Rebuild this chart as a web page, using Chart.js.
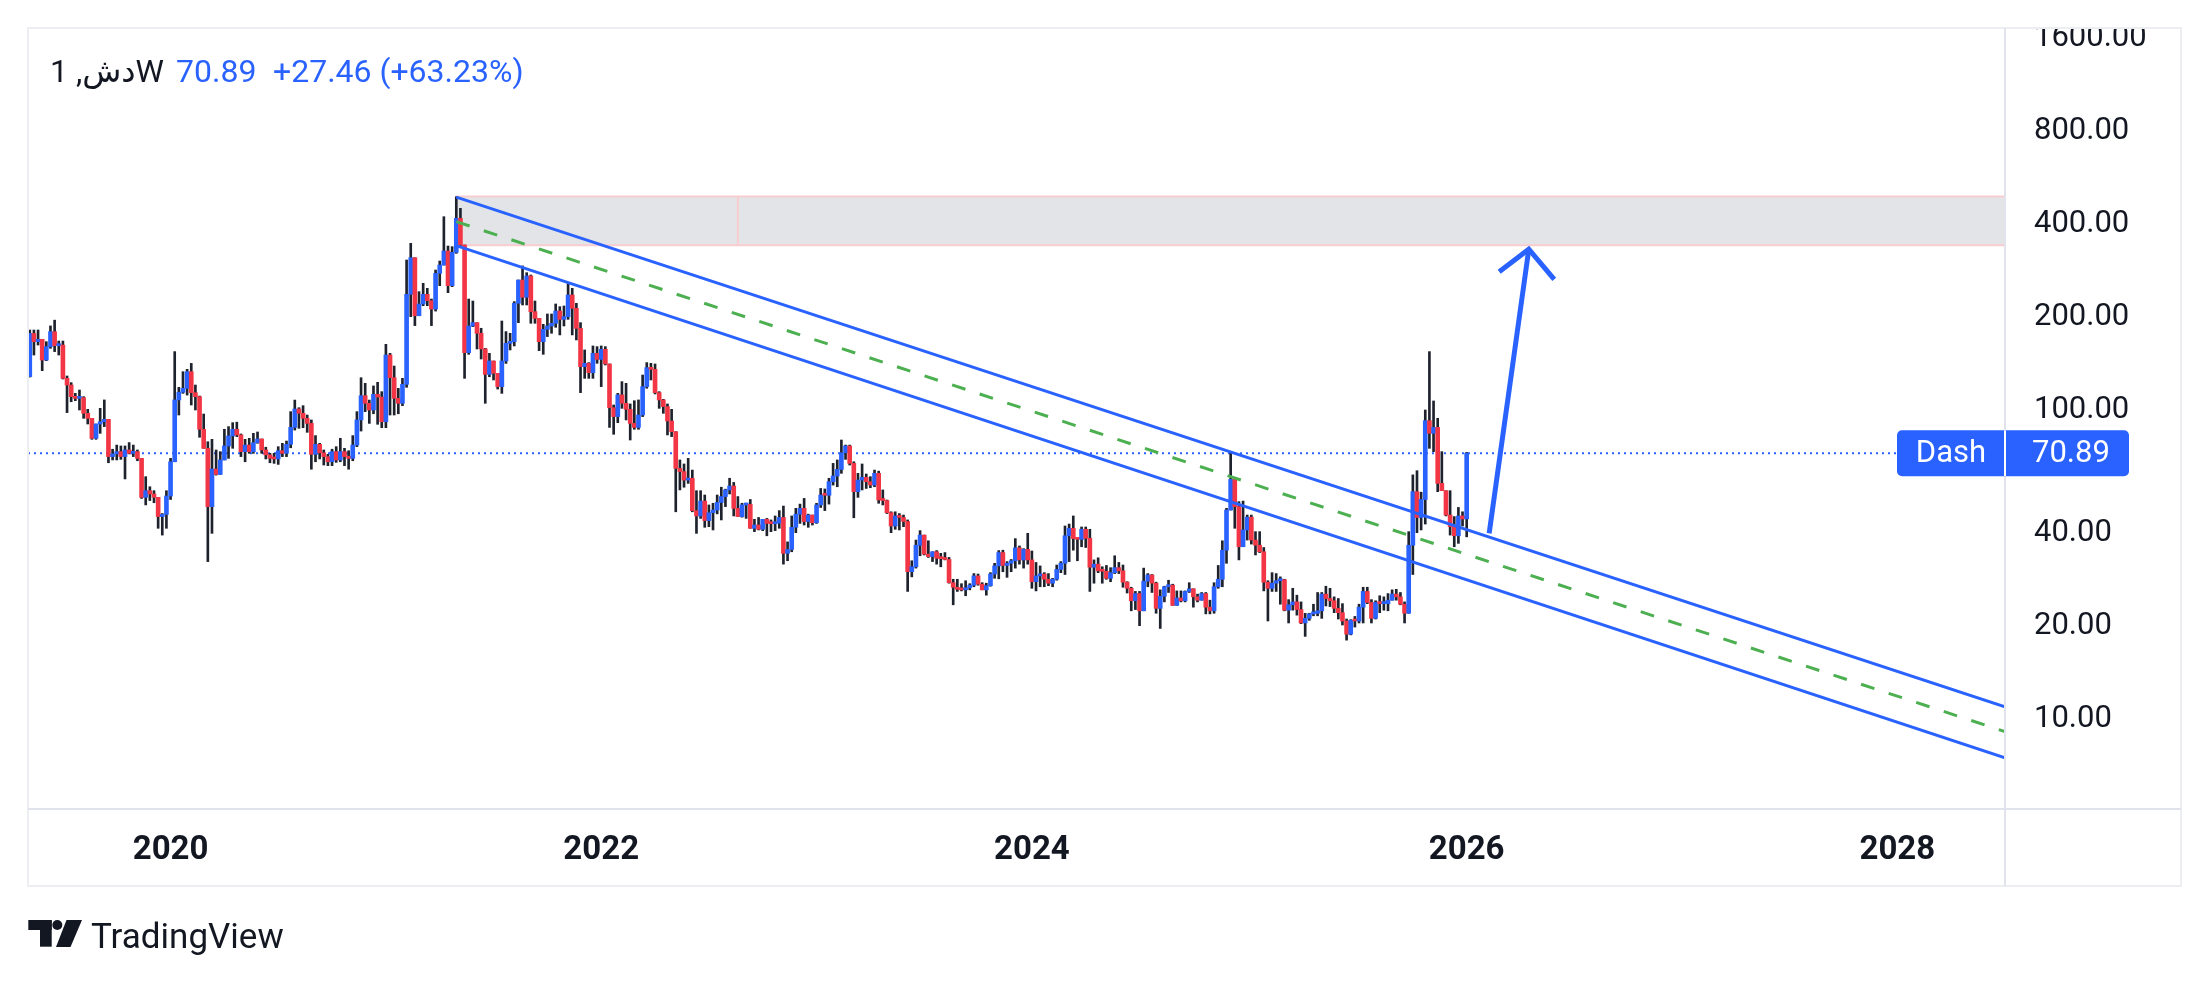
<!DOCTYPE html>
<html>
<head>
<meta charset="utf-8">
<title>Dash 1W</title>
<script src="https://cdn.jsdelivr.net/npm/chart.js@4.4.1/dist/chart.umd.min.js"></script>
<style>
  html, body { margin: 0; padding: 0; background: #ffffff; }
  #wrap { width: 2209px; height: 982px; position: relative; }
</style>
</head>
<body>
<div id="wrap"><canvas id="chart"></canvas></div>
<script>
// weekly candles, first bar is the week of 2019-05-13
const firstWeek = '2019-05-13';
const firstOpen = 125.4;

const closes = [
  173, 162.7, 165.6, 141.9, 156.8, 175.3, 157.9, 158.7, 123.8, 117.8,
  108, 106.7, 107.2, 95.4, 91.9, 79.2, 88.1, 89.6, 91.2, 69.1,
  70.5, 71.7, 69.1, 72.6, 70.8, 71.7, 68.2, 51, 53.6, 52.3,
  51, 44.2, 44.9, 51.5, 66.5, 105.4, 111.6, 114.9, 130.1, 111.3,
  108, 84.7, 73.5, 47.6, 63, 60.5, 67.4, 74.8, 80.6, 84.7,
  81.2, 71.7, 75.3, 71.7, 76.7, 78.8, 72.6, 70, 68.2, 67.9,
  72.2, 70.8, 75.7, 85.9, 98.5, 95.4, 91.9, 88.5, 70.3, 75.7,
  71.1, 69.1, 66.5, 71.7, 67.4, 71.7, 69.1, 68.2, 75.3, 90.8,
  108.8, 102.8, 97.8, 109.9, 107.7, 89.6, 147.3, 124.4, 106.7, 102.8,
  118.4, 231.5, 304.2, 197.4, 215.4, 231.5, 220.8, 207.5, 270.7, 288,
  319.8, 247, 316.6, 407.8, 334.4, 149.9, 182.9, 187.5, 173.2, 154.1,
  127.5, 140.9, 128.5, 116.4, 140.9, 160.7, 162.7, 216.6, 257.6, 226.5,
  265.5, 203.5, 193.6, 162.7, 178.4, 182.9, 186.6, 204.5, 192.2, 196,
  230.4, 208.6, 179.7, 135.1, 138.5, 129.1, 149.2, 142.6, 153.7, 137.8,
  99.5, 93.1, 109.4, 102.8, 98.3, 88.5, 85.9, 94.2, 116.4, 134.1,
  132.4, 111.3, 105.4, 100.3, 90.1, 83.2, 63.3, 61.8, 58, 58.8,
  46.2, 44.4, 49.6, 42.9, 45.5, 46.4, 49.1, 51.3, 53.9, 55.5,
  47, 44.2, 48.2, 48.4, 40.5, 41.5, 40.2, 43.3, 42, 41.9,
  42.1, 43.9, 33.6, 34.6, 40.8, 45, 47, 42.6, 44.7, 42.2,
  48.2, 51.9, 51.8, 57.3, 59.8, 62.8, 71.1, 74.8, 65.7, 53.2,
  58, 59.2, 57.3, 55.9, 61, 50, 49.8, 45.5, 41.2, 44.4,
  43.9, 42.6, 29.3, 30.4, 35.7, 38.5, 33.4, 32.8, 34, 32.4,
  32.3, 32.1, 27, 26.1, 25.7, 25.6, 26, 26.5, 28.4, 26.7,
  25.6, 26.4, 28.8, 30.6, 33.8, 30.7, 31.2, 31.8, 35, 32,
  34.6, 32, 27.2, 28.4, 28.8, 27.7, 26.9, 27.7, 29.8, 31.2,
  38.3, 40.5, 37.5, 37.3, 40.2, 37.6, 30.3, 31, 29.5, 29.4,
  27.9, 29.1, 30.2, 29.5, 27.1, 25.9, 23.6, 24.9, 21.9, 27.3,
  28.6, 26.9, 22.3, 24.4, 26.2, 26.5, 22.8, 24.1, 23.6, 25.3,
  25.8, 24.3, 23.7, 24.9, 22.5, 21.9, 26.2, 27.7, 34.4, 46.4,
  58.3, 47.6, 35.3, 40, 44, 37.1, 35.7, 34, 27.1, 25.9,
  26.9, 27.4, 27.6, 22, 22.9, 23.4, 22.1, 20, 20.7, 21.4,
  21.5, 21.9, 24.8, 24, 23.6, 22.3, 21.6, 20.3, 18.4, 20.4,
  20.3, 22.5, 25.3, 23.3, 20.7, 23.3, 23.1, 23.1, 23.7, 24.8,
  24.3, 23, 21.5, 35.7, 53.2, 43.9, 50.2, 90.3, 82.2, 85.9,
  56.6, 53.6, 44.7, 41, 38.3, 44.4, 43.43, 70.89
];

const highs = [
  177.5, 177.5, 177.5, 165.6, 162.7, 183, 191, 163.5, 163.5, 126,
  119.9, 110.7, 113.5, 108, 98.3, 91.9, 88.1, 99, 105.4, 91.2,
  73, 75.3, 74.8, 74.8, 76.7, 75.3, 72.6, 68.2, 59.5, 55.2,
  53.6, 51, 45.2, 53.6, 68.2, 151.1, 115.8, 130.1, 132.4, 138.4,
  117.8, 108.5, 94.9, 77.2, 78.6, 72.6, 71.7, 84.7, 86.4, 89,
  89.3, 81.8, 78.6, 79.2, 82.2, 83, 78.8, 74.1, 70.8, 70.8,
  74.4, 76.3, 77.6, 96.6, 105.3, 99.5, 101, 94.2, 90.8, 80.8,
  76.3, 72.6, 70.3, 73, 74.4, 79.2, 73.5, 72.2, 80.8, 96.6,
  124.4, 119.3, 105.3, 117, 120.2, 112.1, 159.5, 149.2, 135.7, 114.9,
  123.8, 299, 338.6, 304.2, 236.2, 251.3, 242.1, 223.6, 277.5, 296.8,
  413, 331.9, 330.3, 479, 439.5, 334.4, 223.6, 220.3, 187.5, 179.8,
  154.8, 149.2, 140.9, 128.5, 189.8, 175.4, 173.2, 219.3, 257.6, 286.1,
  272.1, 267.4, 220.3, 193.6, 185.2, 200, 200, 215.5, 211.2, 212.3,
  251.3, 242.2, 216.6, 187.5, 153, 139.2, 157.6, 156.8, 157.6, 156.8,
  137.8, 101.5, 110.7, 120.8, 119.3, 102.3, 104.8, 105.4, 126.9, 139.2,
  138.5, 137.8, 112.1, 105.9, 102.3, 98.3, 83.2, 67.4, 65.4, 68.2,
  62.5, 53.6, 53.6, 51.9, 48.2, 48.8, 51.9, 55, 54.2, 58.8,
  57, 51.3, 48.8, 48.8, 50.2, 43.3, 43.9, 43.3, 43.6, 43.1,
  44.4, 46.2, 47.8, 36.6, 44.4, 47, 48.5, 50.6, 45, 44.7,
  48.8, 54.5, 54.3, 58.8, 65.7, 67.4, 78.2, 75.3, 75.3, 66.5,
  61, 65.4, 60.7, 59.5, 62.5, 62, 53.9, 50, 45.8, 45.8,
  45.2, 44.7, 43.1, 31.8, 37.1, 39.8, 38.5, 36.9, 34, 34.3,
  33.6, 33.8, 32.6, 27.7, 27.7, 26.8, 27.4, 26.8, 28.9, 28.8,
  27, 26.9, 29.1, 31.2, 34.3, 34.4, 31.6, 32.1, 37.5, 35.5,
  34.8, 39, 34.2, 31.4, 30.6, 29.1, 28.9, 27.9, 30.8, 31.6,
  41.2, 41.8, 44.4, 37.7, 40.9, 40.9, 40.2, 32, 32.5, 30.4,
  30.7, 30.2, 33, 31.4, 30.8, 27.2, 26.1, 25.3, 25.3, 30.1,
  28.9, 28.7, 27.1, 25.6, 26.3, 27.5, 26.7, 25.4, 25.4, 25.4,
  27, 25.8, 24.8, 25.1, 25.1, 23.7, 27, 30.7, 36.9, 47,
  71.7, 58.5, 49.4, 49.6, 44.7, 44.7, 39.5, 39.5, 35.1, 27.4,
  29.1, 28.9, 28.2, 27.7, 23.8, 25.9, 24.6, 23.4, 21.5, 21.5,
  23, 25.1, 25.1, 26.3, 25.9, 24.3, 24, 23.1, 20.6, 20.5,
  21, 23, 26.1, 26.1, 23.8, 23.6, 24.5, 24.3, 24.9, 25.6,
  25.7, 25.1, 23.4, 39.5, 60.3, 62.2, 53, 97.8, 151.1, 104.6,
  91.9, 71.7, 53.6, 53.6, 44.2, 47.3, 45.8, 71.3
];

const lows = [
  125, 147.3, 158.7, 131.1, 141.2, 154.9, 151.1, 147.3, 123.2, 95.9,
  104, 104.8, 97.8, 91.9, 88.1, 78.6, 78.6, 82.2, 86.4, 66,
  67.4, 67.4, 67.7, 58.5, 70.5, 69.1, 67, 50.6, 48.2, 49.8,
  49, 40.5, 38.5, 40.5, 50.2, 66.5, 94.2, 110.7, 109.3, 101.5,
  97.8, 79.8, 73.5, 31.6, 39, 60.2, 60.5, 67.4, 68.2, 73.5,
  80.2, 69.1, 66.5, 70.8, 70.8, 76.3, 70.8, 67.9, 66, 65.7,
  65.2, 69.1, 69.1, 73.8, 84.2, 85.3, 85.7, 82.8, 62.9, 66.5,
  67.9, 64.9, 64.6, 64.6, 66.2, 66.5, 64.6, 62.9, 67, 74.4,
  83.6, 96.6, 88.5, 95.1, 87.9, 85.7, 85.7, 94.2, 94.2, 95.1,
  101, 115.8, 196, 183.4, 197.4, 212.8, 212.8, 183.4, 204.4, 247,
  288, 234.4, 245.2, 314.2, 330.3, 123.8, 148.1, 182, 154.1, 143,
  102.8, 125.3, 122.3, 114.3, 110.7, 138.4, 153, 157.6, 187.5, 213.9,
  213.9, 186.6, 186.6, 152.2, 148.1, 169, 173.2, 181.1, 171.1, 182.9,
  192.2, 171.1, 164.8, 111.3, 123.8, 123.8, 123.8, 138.5, 116.4, 136.8,
  85.9, 81.6, 89, 99, 90.8, 78.2, 84.7, 84.7, 93.1, 115,
  122.3, 110.2, 99, 95.4, 81.2, 80.2, 45.8, 53.9, 55, 56.6,
  45.8, 39, 43.6, 40.8, 41, 40, 45.1, 43.1, 47.6, 52.3,
  44.4, 44.2, 44, 43.6, 40.5, 39.5, 40, 39.8, 38.3, 39.5,
  39.8, 40.5, 31, 31.8, 34, 39.2, 42, 41.5, 40.8, 41.5,
  42, 47.3, 46.2, 48.5, 55.9, 55.2, 61, 67.7, 64.9, 43.8,
  51, 53.9, 54.5, 54.8, 55.2, 48.8, 48.2, 45.2, 39.2, 40.2,
  40, 41, 25.3, 28.2, 30.1, 33, 33.2, 32.6, 31.6, 31,
  30.4, 32, 26.9, 22.9, 25.3, 25.4, 24.5, 25.6, 26.2, 26.5,
  25.6, 24.6, 26.3, 27.9, 27.8, 29.3, 28.1, 29.3, 30.1, 31,
  30.1, 31, 25.9, 25.4, 26.2, 26.2, 26.4, 26.2, 27.5, 29.1,
  28.7, 31.6, 34.4, 31.8, 35.3, 35.1, 25.3, 26.9, 29.1, 26.9,
  27.7, 27.2, 28.9, 28.9, 26.1, 25, 21.9, 22.1, 19.6, 21.9,
  26.2, 25.1, 21.5, 19.2, 23.4, 25.1, 22.8, 22.8, 23.4, 23.4,
  25.1, 22.5, 23.4, 23.7, 21.4, 21.4, 21.5, 25.9, 26.2, 31.2,
  46.4, 40.5, 32, 35.3, 37.1, 36, 33.2, 33.8, 25.4, 20.3,
  25.3, 25.3, 23, 21.9, 20, 22, 21.2, 19.9, 18.1, 20.4,
  21.1, 21.1, 20.7, 22.7, 22.6, 21.6, 20.6, 19.7, 17.6, 18.3,
  19.4, 20, 20, 23.1, 20, 20.6, 21.6, 22, 21.9, 23.7,
  23.7, 22.9, 20, 21.5, 28.7, 39.2, 40, 41.8, 73.5, 71.7,
  53.2, 53.6, 44.4, 38.5, 35.3, 36.2, 41.2, 38
];

// axes
const xFrom = '2019-05-10';
const xTo = '2028-07-03';
const yearTicks = ['2020-01-06', '2022-01-03', '2024-01-01', '2026-01-05', '2028-01-03'];
const yearLabels = ['2020', '2022', '2024', '2026', '2028'];
const priceTicks = [10, 20, 40, 100, 200, 400, 800, 1600];
const priceMin = 5;
const priceMax = 1685;

// drawings
const upperLine = [['2021-05-03', 478], ['2028-07-03', 10.7]];
const lowerLine = [['2021-05-03', 333], ['2028-07-03', 7.32]];
const midLine = [['2021-05-03', 398], ['2028-07-03', 8.9]];
const arrowShaft = [['2026-02-12', 39], ['2026-04-20', 324]];
const arrowHead = [['2026-03-01', 274], ['2026-04-20', 324], ['2026-06-02', 259]];
const zoneFrom = '2021-05-03';
const zoneMark = '2022-08-22';
const zoneLow = 334;
const zoneHigh = 480;

const symbolTitle = 'دش, 1W';
const lastChange = '+27.46 (+63.23%)';

const BLUE = '#2962ff';
const RED = '#f23645';
const WICK = '#1e222d';
const TEXT = '#131722';
const FONT = 'Roboto, "Noto Sans", "DejaVu Sans", sans-serif';

const DAY = 86400000;
function dayOf(d) {
  return (Date.parse(d) - Date.parse(firstWeek)) / DAY;
}
function toPts(arr) {
  return arr.map(p => ({ x: dayOf(p[0]), y: p[1] }));
}

// weekly crypto bars open at the previous close
const opens = closes.map((c, i) => i === 0 ? firstOpen : closes[i - 1]);
const wickData = closes.map((c, i) => ({
  x: i * 7,
  y: [Math.min(lows[i], opens[i], c), Math.max(highs[i], opens[i], c)]
}));
const bodyData = closes.map((c, i) => ({ x: i * 7, y: [opens[i], c] }));
const bodyColors = closes.map((c, i) => c >= opens[i] ? BLUE : RED);
const lastClose = closes[closes.length - 1];
const xMin = dayOf(xFrom);
const xMax = dayOf(xTo);

const overlay = {
  id: 'overlay',
  beforeDatasetsDraw(chart) {
    const { ctx, chartArea: a, scales: { x, y } } = chart;
    ctx.save();
    ctx.beginPath();
    ctx.rect(a.left, a.top, a.right - a.left, a.bottom - a.top);
    ctx.clip();
    const x0 = x.getPixelForValue(dayOf(zoneFrom));
    const x1 = a.right;
    const xm = x.getPixelForValue(dayOf(zoneMark));
    const yt = y.getPixelForValue(zoneHigh);
    const yb = y.getPixelForValue(zoneLow);
    ctx.fillStyle = '#e3e4e8';
    ctx.fillRect(x0, yt, x1 - x0, yb - yt);
    ctx.strokeStyle = '#f9cdd0';
    ctx.lineWidth = 2;
    ctx.beginPath();
    ctx.moveTo(x1, yt);
    ctx.lineTo(x0, yt);
    ctx.lineTo(x0, yb);
    ctx.lineTo(x1, yb);
    ctx.moveTo(xm, yt);
    ctx.lineTo(xm, yb);
    ctx.stroke();
    ctx.restore();
  },
  afterDraw(chart) {
    const { ctx, scales: { y } } = chart;
    ctx.save();
    // the top price label is cut by the frame
    ctx.fillStyle = '#ffffff';
    ctx.fillRect(2006, 0, 203, 27);

    ctx.lineWidth = 2;
    ctx.strokeStyle = '#eceef2';
    ctx.strokeRect(28, 28, 2153, 858);
    ctx.strokeStyle = '#e0e3eb';
    ctx.beginPath();
    ctx.moveTo(2005, 28); ctx.lineTo(2005, 886);
    ctx.moveTo(28, 809); ctx.lineTo(2181, 809);
    ctx.stroke();

    // last price tag
    const py = y.getPixelForValue(lastClose);
    ctx.fillStyle = BLUE;
    ctx.beginPath();
    ctx.roundRect(1897, py - 23, 232, 46, 5);
    ctx.fill();
    ctx.strokeStyle = '#ffffff';
    ctx.beginPath();
    ctx.moveTo(2005, py - 23); ctx.lineTo(2005, py + 23);
    ctx.stroke();
    ctx.fillStyle = '#ffffff';
    ctx.font = '31px ' + FONT;
    ctx.textBaseline = 'middle';
    ctx.textAlign = 'center';
    ctx.fillText('Dash', 1951, py + 1);
    ctx.textAlign = 'left';
    ctx.fillText(lastClose.toFixed(2), 2032, py + 1);

    // header
    ctx.font = '32px ' + FONT;
    ctx.direction = 'ltr';
    ctx.fillStyle = TEXT;
    ctx.fillText(symbolTitle, 50, 74);
    ctx.fillStyle = BLUE;
    ctx.fillText(lastClose.toFixed(2), 176, 74);
    ctx.fillText(lastChange, 273, 74);

    // TradingView mark
    ctx.fillStyle = TEXT;
    ctx.fillRect(28.3, 920, 23.4, 10);
    ctx.fillRect(40, 920, 11.7, 26.7);
    ctx.beginPath();
    ctx.arc(57.3, 925, 5, 0, Math.PI * 2);
    ctx.fill();
    ctx.beginPath();
    ctx.moveTo(66.5, 920); ctx.lineTo(82, 920); ctx.lineTo(70.5, 947); ctx.lineTo(56, 947);
    ctx.closePath();
    ctx.fill();
    ctx.font = '35px ' + FONT;
    ctx.textBaseline = 'alphabetic';
    ctx.fillText('TradingView', 91, 947.5);
    ctx.restore();
  }
};

new Chart(document.getElementById('chart'), {
  type: 'bar',
  data: {
    datasets: [
      { type: 'line', data: toPts(arrowShaft), borderColor: BLUE, borderWidth: 5, pointRadius: 0, borderCapStyle: 'butt', order: 0 },
      { type: 'line', data: toPts(arrowHead), borderColor: BLUE, borderWidth: 5, pointRadius: 0, borderJoinStyle: 'miter', order: 0 },
      { type: 'line', data: toPts(upperLine), borderColor: BLUE, borderWidth: 3, pointRadius: 0, order: 1 },
      { type: 'line', data: toPts(lowerLine), borderColor: BLUE, borderWidth: 3, pointRadius: 0, order: 1 },
      { type: 'line', data: toPts(midLine), borderColor: '#4caf50', borderWidth: 3, borderDash: [14, 15], pointRadius: 0, order: 1 },
      { data: bodyData, backgroundColor: bodyColors, barThickness: 4, minBarLength: 2, grouped: false, order: 2 },
      { data: wickData, backgroundColor: WICK, barThickness: 2, grouped: false, order: 3 },
      { type: 'line', data: [{ x: xMin, y: lastClose }, { x: xMax, y: lastClose }], borderColor: BLUE, borderWidth: 2, borderDash: [2, 4], pointRadius: 0, order: 4 }
    ]
  },
  options: {
    responsive: true,
    maintainAspectRatio: false,
    animation: false,
    devicePixelRatio: 1,
    layout: { padding: { left: 28, top: 28, right: 28, bottom: 96 } },
    plugins: { legend: { display: false }, tooltip: { enabled: false } },
    scales: {
      x: {
        type: 'linear',
        min: xMin,
        max: xMax,
        offset: false,
        grid: { display: false, drawTicks: false, offset: false },
        border: { display: false },
        afterBuildTicks: s => { s.ticks = yearTicks.map(d => ({ value: dayOf(d) })); },
        afterFit: s => { s.height = 77; },
        ticks: {
          autoSkip: false,
          maxRotation: 0,
          padding: 22,
          color: TEXT,
          font: { family: FONT, size: 33, weight: 'bold' },
          callback: (v, i) => yearLabels[i]
        }
      },
      y: {
        type: 'logarithmic',
        position: 'right',
        min: priceMin,
        max: priceMax,
        grid: { display: false, drawTicks: true, tickLength: 29 },
        border: { display: false },
        afterBuildTicks: s => { s.ticks = priceTicks.map(v => ({ value: v })); },
        afterFit: s => { s.width = 176; },
        ticks: {
          autoSkip: false,
          padding: 0,
          labelOffset: 3,
          color: TEXT,
          font: { family: FONT, size: 31 },
          callback: v => Number(v).toFixed(2)
        }
      }
    }
  },
  plugins: [overlay]
});
</script>
</body>
</html>
